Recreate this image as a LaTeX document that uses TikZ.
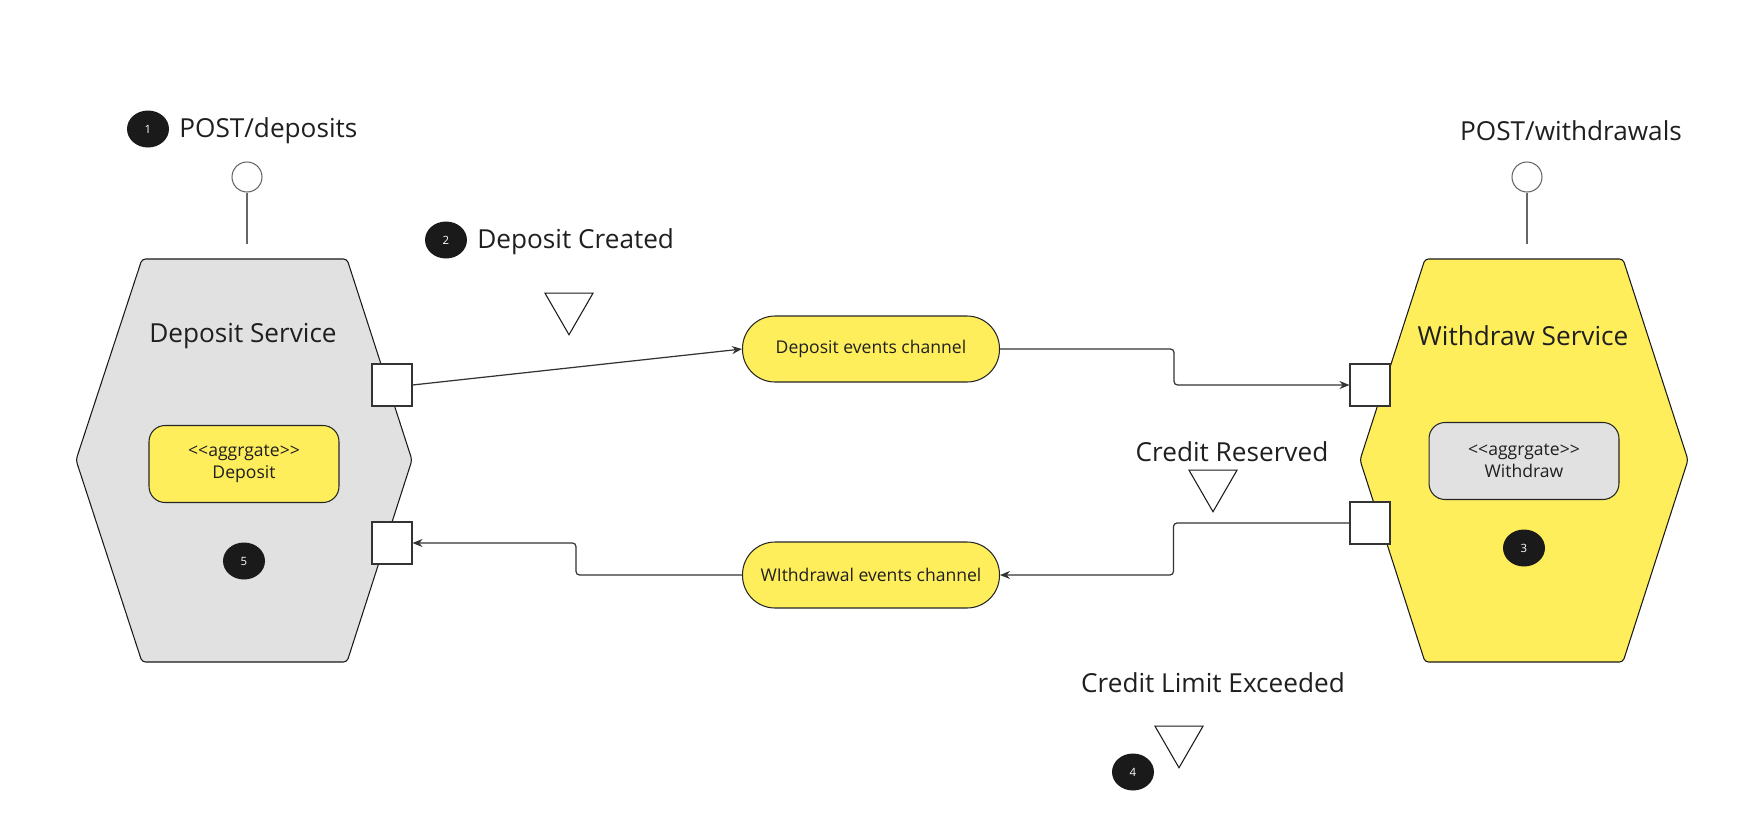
\documentclass[tikz,border=0pt]{standalone}
\usepackage{fontspec}
\setmainfont{Open Sans}
\usetikzlibrary{arrows.meta,shapes.geometric}
\definecolor{stickyYellow}{HTML}{FFEE5C}
\definecolor{serviceGray}{HTML}{E1E1E1}
\definecolor{lineGray}{HTML}{333333}
\definecolor{badgeBlack}{HTML}{1A1A1A}
\newcommand{\aggrText}[1]{\textless\kern0pt\textless aggrgate\textgreater\kern0pt\textgreater\\#1}
\tikzset{
  bigtext/.style={font=\fontsize{14.9}{18}\selectfont, text=black!88, inner sep=0pt},
  hexagon/.style={draw=black!90, line width=0.6pt, rounded corners=2pt},
  port/.style={draw=black!80, fill=white, line width=0.6pt, minimum width=0.8cm, minimum height=0.84cm, inner sep=0pt},
  aggr/.style={draw=black!85, line width=0.6pt, rounded corners=0.32cm, minimum width=3.8cm, minimum height=1.54cm, align=center, font=\fontsize{10}{12.5}\selectfont, text=black!88},
  channel/.style={draw=black!85, fill=stickyYellow, line width=0.6pt, rounded corners=0.65cm, minimum width=5.14cm, minimum height=1.32cm, font=\fontsize{10}{12}\selectfont, text=black!88},
  badge/.style={ellipse, fill=badgeBlack, minimum width=0.84cm, minimum height=0.74cm, inner sep=0pt, text=white, font=\fontsize{6.5}{7}\selectfont},
  eventmark/.style={regular polygon, regular polygon sides=3, shape border rotate=180, draw=black!90, line width=0.6pt, minimum size=1.11cm, inner sep=0pt},
  lolli/.style={circle, draw=black!60, fill=white, line width=0.6pt, minimum size=0.6cm, inner sep=0pt},
  apiline/.style={draw=black!60, line width=0.7pt},
  flow/.style={draw=lineGray, line width=0.7pt, rounded corners=2pt, -{Stealth[length=0.2cm, width=0.16cm]}}
}
\begin{document}
\begin{tikzpicture}[x=0.02cm, y=-0.02cm]
\useasboundingbox (0,0) rectangle (1756,822);

% Deposit service
\draw[hexagon, fill=serviceGray] (142,259) -- (347,259) -- (412,460) -- (347,662) -- (142,662) -- (76,460) -- cycle;
\node[bigtext] (dtitle) at (243,336) {Deposit Service};
\node[aggr, fill=stickyYellow] (dagg) at (244,464) {\aggrText{Deposit}};
\node[port] (dout) at (392,385) {};
\node[port] (din) at (392,543) {};
\node[badge] (b5) at (244,561) {5};
\node[lolli] (dapi) at (247,177) {};
\coordinate (dapiend) at (247,244);
\draw[apiline] (dapi) -- (dapiend);
\node[badge] (b1) at (148,129) {1};
\node[bigtext, anchor=west] (dpost) at (179,131) {POST/deposits};

% Withdraw service
\draw[hexagon, fill=stickyYellow] (1425,259) -- (1623,259) -- (1688,460) -- (1623,662) -- (1425,662) -- (1360,460) -- cycle;
\node[bigtext] (wtitle) at (1523,336) {Withdraw Service};
\node[aggr, fill=serviceGray] (wagg) at (1524,461) {\aggrText{Withdraw}};
\node[port] (win) at (1370,385) {};
\node[port] (wout) at (1370,523) {};
\node[badge] (b3) at (1524,548) {3};
\node[lolli] (wapi) at (1527,177) {};
\coordinate (wapiend) at (1527,244);
\draw[apiline] (wapi) -- (wapiend);
\node[bigtext] (wpost) at (1571,131) {POST/withdrawals};

% channels
\node[channel] (dchan) at (871,349) {Deposit events channel};
\node[channel] (wchan) at (871,575) {WIthdrawal events channel};

% events
\node[badge] (b2) at (446,240) {2};
\node[bigtext, anchor=west] (dcreated) at (477,242) {Deposit Created};
\node[eventmark] (ev1) at (569,307) {};
\node[bigtext] (creserved) at (1232,452) {Credit Reserved};
\node[eventmark] (ev2) at (1213,484) {};
\node[bigtext] (climit) at (1213,683) {Credit Limit Exceeded};
\node[eventmark] (ev3) at (1179,740) {};
\node[badge] (b4) at (1133,772) {4};

\draw[flow] (dout.east) -- (dchan.west);
\draw[flow] (dchan.east) -- ++(174,0) |- (win.west);
\draw[flow] (wout.west) -- ++(-176,0) |- (wchan.east);
\draw[flow] (wchan.west) -- ++(-166,0) |- (din.east);
\end{tikzpicture}
\end{document}
